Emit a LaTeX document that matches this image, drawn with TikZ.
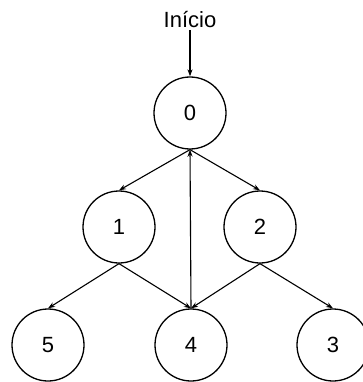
\documentclass[tikz,border=0pt]{standalone}
\usepackage{fontspec}
\setmainfont{Liberation Sans}
\usetikzlibrary{arrows.meta}
\begin{document}
\begin{tikzpicture}[x=1pt,y=-1pt,
  st/.style={circle,draw,line width=1.3pt,minimum size=72pt,inner sep=0pt,font=\fontsize{22}{26}\selectfont},
  ar/.style={-{Stealth[length=7pt,width=5pt]},line width=1.1pt}]
\useasboundingbox (0,0) rectangle (362,382);
\node[font=\fontsize{22}{26}\selectfont,inner sep=2pt] (ini) at (190,20) {Início};
\node[st] (n0) at (190,113) {0};
\node[st] (n1) at (119,227) {1};
\node[st] (n2) at (260,227) {2};
\node[st] (n5) at (48,345) {5};
\node[st] (n4) at (191,345) {4};
\node[st] (n3) at (333,345) {3};
\draw[ar] (ini) -- (n0);
\draw[ar] (n0.south) -- (n1.north);
\draw[ar] (n0.south) -- (n2.north);
\draw[ar] (n4.north) -- (n0.south);
\draw[ar] (n1.south) -- (n5.north);
\draw[ar] (n1.south) -- (n4.north);
\draw[ar] (n2.south) -- (n4.north);
\draw[ar] (n2.south) -- (n3.north);
\end{tikzpicture}
\end{document}
